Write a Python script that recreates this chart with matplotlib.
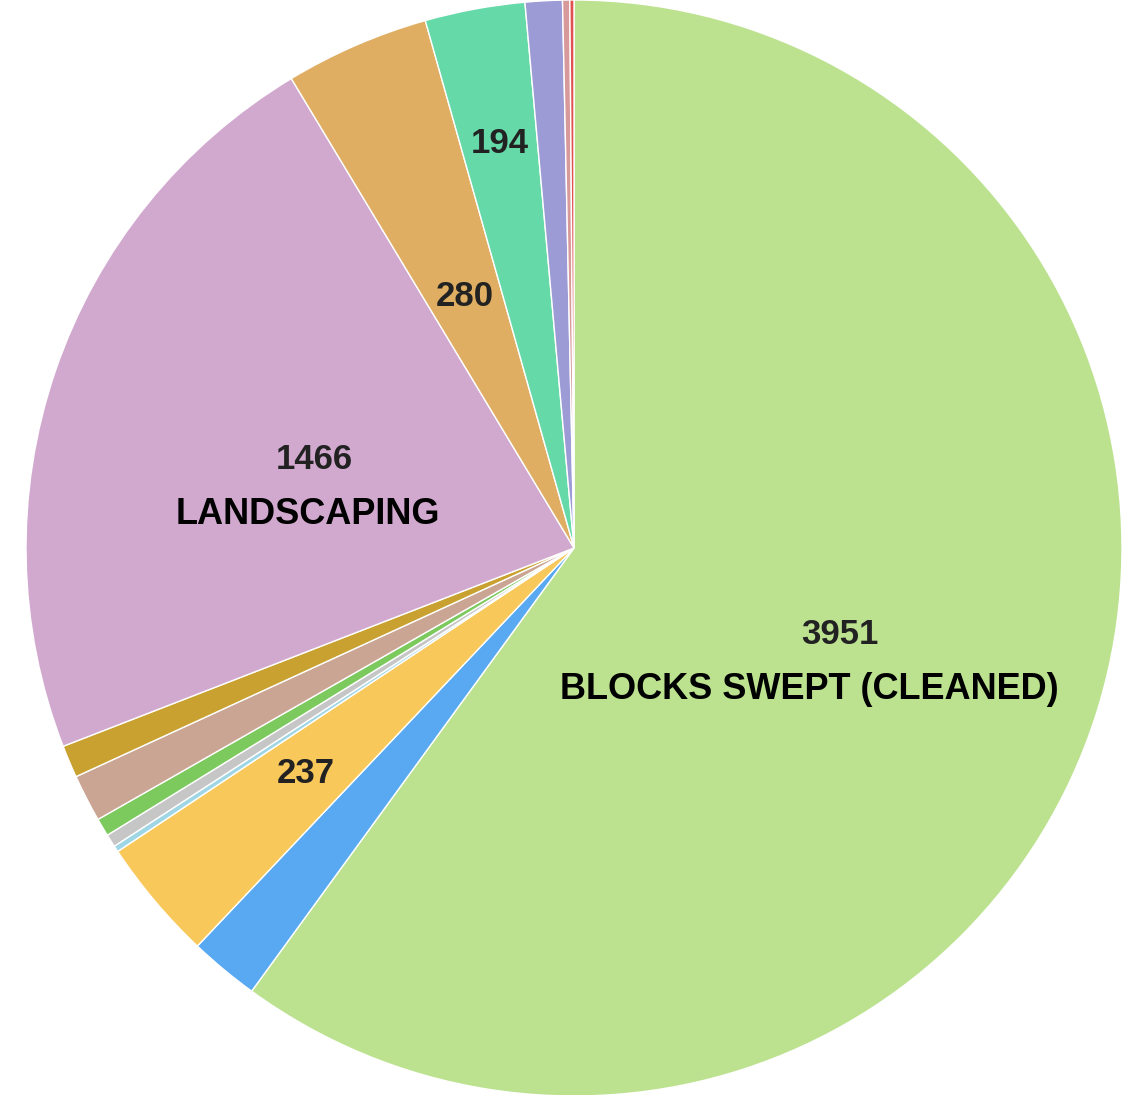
import numpy as np
import matplotlib.pyplot as plt

plt.rcParams['font.family'] = ['Liberation Sans', 'DejaVu Sans']

# slices, clockwise from 12 o'clock
values = [3951, 135, 237, 12, 25, 35, 92, 63, 1466, 280, 194, 72, 14, 8]
colors = ['#bce290', '#58a8f2', '#f9c85a', '#9fd6e6', '#c6c6c6', '#7cc95e',
          '#cba593', '#c9a131', '#d1a9cf', '#dfae63', '#66d9a9', '#9c9bd6',
          '#d8999b', '#e0504f']
# which slices get a number label, and how far out (fraction of radius)
value_labels = {0: 0.51, 2: 0.64, 8: 0.50, 9: 0.50, 10: 0.75}
cat_labels = {0: 'BLOCKS SWEPT (CLEANED)', 8: 'LANDSCAPING'}

W, H = 1122, 1095
fig = plt.figure(figsize=(W / 100, H / 100), dpi=100)
ax = fig.add_axes([0, 0, 1, 1])

cx, cy, R = 574, H - 548, 548
wedges, _ = ax.pie(values, colors=colors, startangle=90, counterclock=False,
                   center=(cx, cy), radius=R, frame=True,
                   wedgeprops=dict(edgecolor='white', linewidth=1.0))
ax.set_xlim(0, W)
ax.set_ylim(0, H)
ax.set_aspect('equal')
ax.axis('off')

for i, f in value_labels.items():
    w = wedges[i]
    a = np.deg2rad((w.theta1 + w.theta2) / 2)
    x = cx + f * R * np.cos(a)
    y = cy + f * R * np.sin(a)
    ax.text(x, y, str(values[i]), ha='center', va='center', fontsize=25,
            fontweight='bold', color='#222222')
    if i in cat_labels:
        ax.text(x - 30 if i == 0 else x - 7, y - 55, cat_labels[i], ha='center',
                va='center', fontsize=26, fontweight='bold', color='black')

fig.savefig('out.png', dpi=100)
